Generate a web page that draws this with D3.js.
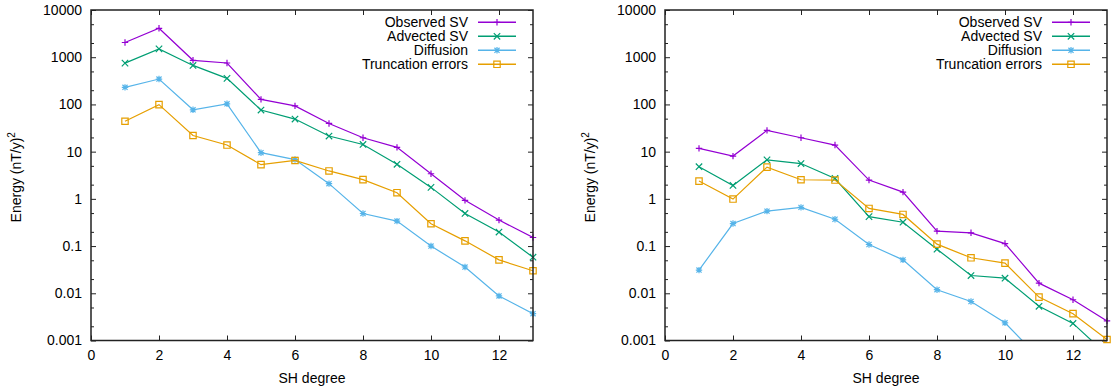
<!DOCTYPE html>
<html><head><meta charset="utf-8">
<script src="https://cdn.jsdelivr.net/npm/d3@7"></script>
<style>
html,body{margin:0;padding:0;background:#fff;}
text{font-family:"Liberation Sans",Arial,sans-serif;fill:#000;}
</style></head><body>
<svg id="c" width="1114" height="390"></svg>
<script>
// ---- data ----
const degrees = [1,2,3,4,5,6,7,8,9,10,11,12,13];
const seriesNames = ["Observed SV","Advected SV","Diffusion","Truncation errors"];
const seriesColors = ["#9400d3","#009e73","#56b4e9","#e69f00"];
const markerTypes = ["plus","cross","star","square"];
// left panel
const observedA = [2050,4100,860,755,128,93,39.5,19.7,12.3,3.4,0.93,0.355,0.152];
const advectedA = [750,1500,670,356,76,49,21.4,14.2,5.4,1.75,0.49,0.198,0.058];
const diffusionA = [230,345,77,103,9.5,6.8,2.1,0.49,0.338,0.1,0.036,0.0088,0.0037];
const truncationA = [44,99,22,13.8,5.3,6.5,3.9,2.55,1.35,0.297,0.129,0.051,0.030];
// right panel
const observedB = [11.7,8.05,28.2,19.7,13.8,2.5,1.39,0.207,0.191,0.113,0.0164,0.0073,0.0026];
const advectedB = [4.8,1.92,6.7,5.6,2.7,0.42,0.32,0.086,0.0238,0.0209,0.0053,0.0023,0.0005];
const diffusionB = [0.031,0.30,0.55,0.66,0.37,0.108,0.051,0.0119,0.0067,0.00237,0.00043,0.00012,0.00004];
const truncationB = [2.38,0.99,4.7,2.54,2.5,0.627,0.468,0.11,0.0565,0.0435,0.0083,0.0037,0.00105];
// ticks
const xTickValues = [0,2,4,6,8,10,12];
const yTickValues = [0.001,0.01,0.1,1,10,100,1000,10000];
const yTickLabels = ["0.001","0.01","0.1","1","10","100","1000","10000"];
const yMinorValues = [];
yTickValues.slice(0,-1).forEach(v=>{yMinorValues.push(v*2,v*5);});
const xLabel = "SH degree";

const panels = [
  {left:91, data:[observedA,advectedA,diffusionA,truncationA]},
  {left:665, data:[observedB,advectedB,diffusionB,truncationB]}
];

const svg = d3.select("#c");
const plotTop = 10, plotW = 442, plotH = 330.5;
const x = d3.scaleLinear().domain([0,13]).range([0,plotW]);
const y = d3.scaleLog().domain([0.001,10000]).range([plotH,0]);

function markerPath(type){
  const s=3.2;
  if(type==="plus") return `M${-s},0H${s}M0,${-s}V${s}`;
  if(type==="cross") return `M${-s},${-s}L${s},${s}M${-s},${s}L${s},${-s}`;
  if(type==="star") return `M${-s},0H${s}M0,${-s}V${s}M${-s*0.8},${-s*0.8}L${s*0.8},${s*0.8}M${-s*0.8},${s*0.8}L${s*0.8},${-s*0.8}`;
  return `M${-s},${-s}H${s}V${s}H${-s}Z`;
}

panels.forEach((p,pi)=>{
  const g = svg.append("g").attr("transform",`translate(${p.left},${plotTop})`);
  const clipId = "clip"+pi;
  g.append("clipPath").attr("id",clipId).append("rect")
    .attr("x",0).attr("y",0).attr("width",plotW).attr("height",plotH);

  // axes (ticks inward, mirrored)
  const fmt = v => yTickLabels[yTickValues.indexOf(v)];
  const axL = g.append("g").call(d3.axisLeft(y).tickValues(yTickValues).tickFormat(fmt).tickSizeInner(-5).tickSizeOuter(0).tickPadding(9));
  const axLm = g.append("g").call(d3.axisLeft(y).tickValues(yMinorValues).tickFormat("").tickSizeInner(-3).tickSizeOuter(0));
  const axR = g.append("g").attr("transform",`translate(${plotW},0)`).call(d3.axisRight(y).tickValues(yTickValues).tickFormat("").tickSizeInner(-5).tickSizeOuter(0));
  const axRm = g.append("g").attr("transform",`translate(${plotW},0)`).call(d3.axisRight(y).tickValues(yMinorValues).tickFormat("").tickSizeInner(-3).tickSizeOuter(0));
  const axB = g.append("g").attr("transform",`translate(0,${plotH})`).call(d3.axisBottom(x).tickValues(xTickValues).tickFormat(d3.format("d")).tickSizeInner(-5).tickSizeOuter(0).tickPadding(10));
  const axT = g.append("g").call(d3.axisTop(x).tickValues(xTickValues).tickFormat("").tickSizeInner(-5).tickSizeOuter(0));
  [axL,axLm,axR,axRm,axB,axT].forEach(a=>{
    a.select(".domain").remove();
    a.selectAll("line").attr("stroke","#222").attr("stroke-width",1);
    a.selectAll("text").style("font-size","14px").style("font-family","'Liberation Sans',Arial,sans-serif").attr("fill","#000");
  });

  // series
  p.data.forEach((vals,si)=>{
    const pts = degrees.map((d,i)=>({d, v: vals[i]}));
    const line = d3.line().x(o=>x(o.d)).y(o=>y(o.v));
    g.append("path").datum(pts).attr("d",line).attr("fill","none")
      .attr("stroke",seriesColors[si]).attr("stroke-width",1.2).attr("clip-path",`url(#${clipId})`);
    g.append("g").selectAll("path").data(pts.filter(o=>o.v>=0.001*0.98 && o.v<=10000))
      .join("path").attr("transform",o=>`translate(${x(o.d)},${y(o.v)})`)
      .attr("d",markerPath(markerTypes[si])).attr("fill","none")
      .attr("stroke",seriesColors[si]).attr("stroke-width",1.2);
  });

  // border
  g.append("rect").attr("x",0).attr("y",0).attr("width",plotW).attr("height",plotH)
    .attr("fill","none").attr("stroke","#222").attr("stroke-width",1.5);

  // legend
  const lg = g.append("g");
  seriesNames.forEach((name,si)=>{
    const cy = 12.3 + si*14;
    lg.append("text").attr("x",377).attr("y",cy+5).attr("text-anchor","end")
      .style("font-size","14px").text(name);
    lg.append("line").attr("x1",387).attr("x2",425).attr("y1",cy).attr("y2",cy)
      .attr("stroke",seriesColors[si]).attr("stroke-width",1.5);
    lg.append("path").attr("transform",`translate(406,${cy})`).attr("d",markerPath(markerTypes[si]))
      .attr("fill","none").attr("stroke",seriesColors[si]).attr("stroke-width",1.2);
  });

  // axis labels
  g.append("text").attr("x",plotW/2).attr("y",plotH+42).attr("text-anchor","middle")
    .style("font-size","14px").text(xLabel);
  const yl = g.append("text").attr("transform",`translate(-70,${plotH/2+2}) rotate(-90)`)
    .attr("text-anchor","middle").style("font-size","14px");
  yl.append("tspan").text("Energy (nT/y)");
  yl.append("tspan").attr("dy",-6).style("font-size","10px").text("2");
});
</script>
</body></html>
